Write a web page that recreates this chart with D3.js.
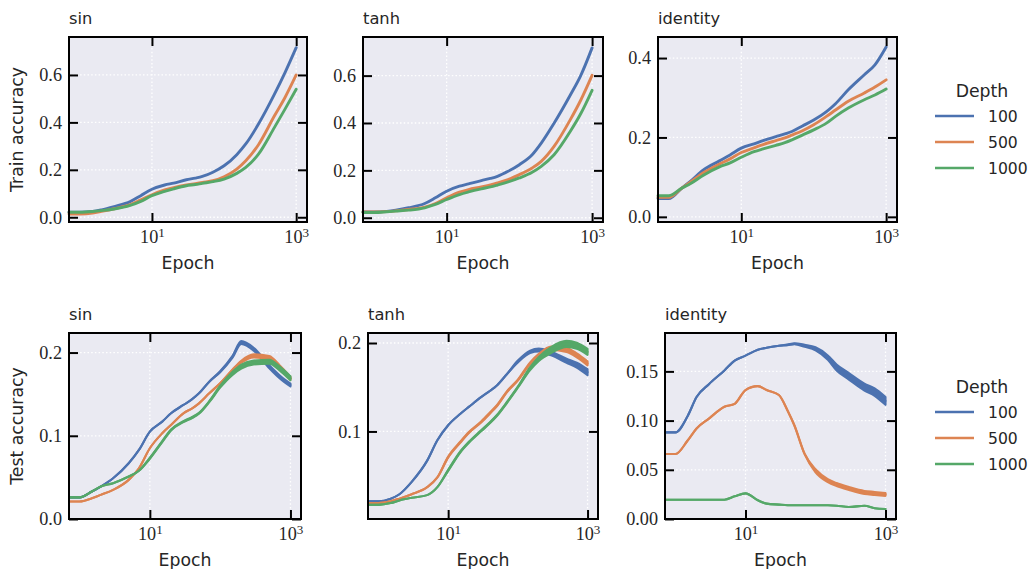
<!DOCTYPE html>
<html>
<head>
<meta charset="utf-8">
<script src="https://cdn.jsdelivr.net/npm/d3@7"></script>
<style>
  body { margin: 0; background: #fff; }
  svg { display: block; }
</style>
</head>
<body>
<div id="chart"></div>
<script>
var epochs = [1, 1.5, 2, 3, 5, 7, 10, 15, 20, 30, 40, 50, 70, 100, 150, 200, 300, 500, 700, 1000];
var depths = ["100", "500", "1000"];
var colors = ["#4c72b0", "#dd8452", "#55a868"];

// train accuracy
var sinTrain100  = [0.021,0.024,0.031,0.045,0.066,0.091,0.118,0.136,0.144,0.158,0.165,0.172,0.190,0.217,0.264,0.309,0.393,0.519,0.610,0.715];
var sinTrain500  = [0.014,0.018,0.025,0.036,0.053,0.073,0.095,0.115,0.125,0.136,0.142,0.147,0.154,0.171,0.203,0.238,0.306,0.428,0.505,0.600];
var sinTrain1000 = [0.021,0.024,0.028,0.035,0.050,0.067,0.091,0.109,0.120,0.133,0.138,0.143,0.150,0.161,0.185,0.210,0.266,0.379,0.456,0.540];

var tanhTrain100  = [0.024,0.027,0.032,0.042,0.060,0.084,0.112,0.133,0.143,0.157,0.166,0.175,0.196,0.224,0.266,0.315,0.399,0.517,0.601,0.717];
var tanhTrain500  = [0.024,0.026,0.029,0.035,0.045,0.060,0.084,0.108,0.119,0.130,0.139,0.147,0.161,0.182,0.210,0.238,0.301,0.413,0.497,0.601];
var tanhTrain1000 = [0.022,0.025,0.028,0.032,0.042,0.056,0.077,0.098,0.109,0.122,0.130,0.138,0.151,0.168,0.192,0.217,0.266,0.364,0.440,0.538];

var idTrain100  = [0.046,0.072,0.090,0.118,0.141,0.156,0.173,0.184,0.192,0.202,0.209,0.215,0.229,0.244,0.265,0.285,0.320,0.358,0.383,0.428];
var idTrain500  = [0.049,0.072,0.088,0.111,0.133,0.146,0.162,0.174,0.182,0.192,0.199,0.206,0.217,0.232,0.253,0.269,0.291,0.312,0.327,0.345];
var idTrain1000 = [0.053,0.072,0.084,0.105,0.126,0.136,0.150,0.164,0.171,0.180,0.187,0.194,0.206,0.219,0.236,0.253,0.274,0.295,0.307,0.322];

// test accuracy
var sinTest100  = [0.026,0.033,0.039,0.049,0.067,0.083,0.105,0.117,0.127,0.137,0.144,0.151,0.165,0.177,0.195,0.212,0.204,0.183,0.171,0.161];
var sinTest500  = [0.021,0.025,0.029,0.035,0.047,0.061,0.085,0.103,0.113,0.127,0.133,0.139,0.151,0.163,0.179,0.189,0.196,0.194,0.183,0.169];
var sinTest1000 = [0.026,0.033,0.039,0.043,0.051,0.058,0.073,0.093,0.107,0.117,0.122,0.127,0.141,0.159,0.175,0.183,0.188,0.189,0.181,0.169];

var tanhTest100  = [0.021,0.024,0.029,0.043,0.067,0.090,0.107,0.120,0.128,0.139,0.146,0.152,0.165,0.179,0.190,0.192,0.188,0.180,0.175,0.167];
var tanhTest500  = [0.019,0.021,0.024,0.029,0.037,0.048,0.071,0.088,0.099,0.111,0.121,0.129,0.145,0.158,0.177,0.186,0.194,0.192,0.186,0.177];
var tanhTest1000 = [0.017,0.019,0.022,0.025,0.028,0.037,0.056,0.077,0.088,0.101,0.110,0.118,0.133,0.150,0.171,0.182,0.192,0.199,0.197,0.190];

var idTest100  = [0.088,0.105,0.124,0.137,0.151,0.161,0.166,0.172,0.174,0.176,0.177,0.178,0.176,0.173,0.164,0.154,0.145,0.134,0.129,0.120];
var idTest500  = [0.066,0.080,0.092,0.102,0.114,0.117,0.131,0.135,0.131,0.126,0.110,0.095,0.066,0.049,0.039,0.035,0.031,0.027,0.026,0.025];
var idTest1000 = [0.0196,0.0196,0.0196,0.0196,0.0196,0.023,0.026,0.019,0.0156,0.0146,0.014,0.0139,0.0139,0.0139,0.0139,0.0135,0.0122,0.0135,0.011,0.0102];

// half width of the noisy band around each test curve
var sinTestNoise100  = [0,0,0,0,0,0,0,0,0,0,0,0,0,0.0006,0.0012,0.0018,0.0018,0.0018,0.0018,0.0018];
var sinTestNoise500  = [0,0,0,0,0,0,0,0,0,0,0,0,0,0,0.0006,0.0012,0.0018,0.0018,0.0018,0.0018];
var sinTestNoise1000 = [0,0,0,0,0,0,0.0006,0.0006,0.0006,0.0006,0.0006,0.0006,0.0006,0.0012,0.0018,0.0024,0.0024,0.0024,0.0024,0.0024];

var tanhTestNoise100  = [0,0,0,0,0,0,0,0,0,0,0,0,0,0.0011,0.0014,0.0017,0.002,0.0023,0.0028,0.0034];
var tanhTestNoise500  = [0,0,0,0,0,0,0.0006,0.0006,0.0006,0.0006,0.0006,0.0006,0.0006,0.0006,0.0011,0.0017,0.002,0.0023,0.0023,0.0023];
var tanhTestNoise1000 = [0,0,0,0,0,0,0.0006,0.0006,0.0006,0.0006,0.0006,0.0006,0.0006,0.0006,0.0017,0.0023,0.0034,0.0034,0.0034,0.0034];

var idTestNoise100  = [0,0,0,0,0,0,0,0,0,0,0.0003,0.0005,0.001,0.0015,0.0022,0.003,0.0033,0.0035,0.0038,0.004];
var idTestNoise500  = [0,0,0,0,0,0,0,0,0,0,0,0,0,0.0015,0.0015,0.0015,0.0015,0.0015,0.0015,0.0015];
var idTestNoise1000 = [0,0,0,0,0,0,0,0,0,0,0,0,0,0,0,0,0,0,0,0];

var xTicks = [10, 1000];

var panels = [
  {title: "sin", ylabel: "Train accuracy", left: 69, right: 307, top: 37, bottom: 222,
   ydom: [-0.02, 0.76], yticks: [0, 0.2, 0.4, 0.6], fmt: ".1f", lw: 2.9,
   series: [sinTrain100, sinTrain500, sinTrain1000]},
  {title: "tanh", left: 363, right: 603, top: 37, bottom: 222,
   ydom: [-0.018, 0.763], yticks: [0, 0.2, 0.4, 0.6], fmt: ".1f", lw: 2.9,
   series: [tanhTrain100, tanhTrain500, tanhTrain1000]},
  {title: "identity", left: 658, right: 897, top: 37, bottom: 222,
   ydom: [-0.013, 0.453], yticks: [0, 0.2, 0.4], fmt: ".1f", lw: 2.9,
   series: [idTrain100, idTrain500, idTrain1000], legend: true},
  {title: "sin", ylabel: "Test accuracy", left: 69, right: 301, top: 333, bottom: 519,
   ydom: [0, 0.2235], yticks: [0, 0.1, 0.2], fmt: ".1f", lw: 2.1,
   series: [sinTest100, sinTest500, sinTest1000],
   noise: [sinTestNoise100, sinTestNoise500, sinTestNoise1000]},
  {title: "tanh", left: 368, right: 598, top: 333, bottom: 519,
   ydom: [0.001, 0.2113], yticks: [0.1, 0.2], fmt: ".1f", lw: 2.1,
   series: [tanhTest100, tanhTest500, tanhTest1000],
   noise: [tanhTestNoise100, tanhTestNoise500, tanhTestNoise1000]},
  {title: "identity", left: 665, right: 896, top: 333, bottom: 519,
   ydom: [0, 0.189], yticks: [0, 0.05, 0.1, 0.15], fmt: ".2f", lw: 2.1,
   series: [idTest100, idTest500, idTest1000],
   noise: [idTestNoise100, idTestNoise500, idTestNoise1000], legend: true}
];

var sans = "'DejaVu Sans', sans-serif";
var serif = "'Liberation Serif', 'DejaVu Serif', serif";
var ink = "#262626";

var svg = d3.select("#chart").append("svg")
  .attr("width", 1029)
  .attr("height", 569);

function styleTicks(ax) {
  ax.select(".domain").remove();
  ax.selectAll(".tick line").attr("stroke", "#000").attr("stroke-width", 2);
  ax.selectAll(".tick text").attr("fill", ink);
  ax.attr("font-family", serif).attr("font-size", 18.2);
}

function drawPanel(p) {
  var x = d3.scaleLog()
    .domain([Math.pow(10, -0.15), Math.pow(10, 3.15)])
    .range([p.left, p.right]);
  var y = d3.scaleLinear()
    .domain(p.ydom)
    .range([p.bottom, p.top]);
  var g = svg.append("g");

  g.append("rect")
    .attr("x", p.left).attr("y", p.top)
    .attr("width", p.right - p.left).attr("height", p.bottom - p.top)
    .attr("fill", "#eaeaf2");

  // dotted white grid
  g.selectAll(".gx").data(xTicks).join("line")
    .attr("x1", d => x(d)).attr("x2", d => x(d))
    .attr("y1", p.top).attr("y2", p.bottom)
    .attr("stroke", "#fff").attr("stroke-width", 1.3).attr("stroke-dasharray", "1.5,2.2");
  g.selectAll(".gy").data(p.yticks).join("line")
    .attr("x1", p.left).attr("x2", p.right)
    .attr("y1", d => y(d)).attr("y2", d => y(d))
    .attr("stroke", "#fff").attr("stroke-width", 1.3).attr("stroke-dasharray", "1.5,2.2");

  var x0 = x.domain()[0];
  p.series.forEach(function(vals, i) {
    // first point repeated at the left edge (epoch 0 clipped by the log axis)
    var pts = [{e: x0, v: vals[0], n: 0}].concat(epochs.map(function(e, k) {
      return {e: e, v: vals[k], n: p.noise ? p.noise[i][k] : 0};
    }));
    if (p.noise) {
      var band = d3.area()
        .x(d => x(d.e))
        .y0(d => y(d.v - d.n))
        .y1(d => y(d.v + d.n))
        .curve(d3.curveMonotoneX);
      g.append("path").datum(pts)
        .attr("d", band)
        .attr("fill", colors[i])
        .attr("stroke", colors[i])
        .attr("stroke-width", p.lw)
        .attr("stroke-linejoin", "round");
    }
    var line = d3.line()
      .x(d => x(d.e))
      .y(d => y(d.v))
      .curve(d3.curveMonotoneX);
    g.append("path").datum(pts)
      .attr("d", line)
      .attr("fill", "none")
      .attr("stroke", colors[i])
      .attr("stroke-width", p.lw)
      .attr("stroke-linejoin", "round")
      .attr("stroke-linecap", "round");
  });

  // axes with inward ticks on all four sides
  var axL = g.append("g").attr("transform", "translate(" + p.left + ",0)")
    .call(d3.axisLeft(y).tickValues(p.yticks).tickSize(-9).tickPadding(7).tickFormat(d3.format(p.fmt)));
  styleTicks(axL);
  var axR = g.append("g").attr("transform", "translate(" + p.right + ",0)")
    .call(d3.axisRight(y).tickValues(p.yticks).tickSize(-9).tickFormat(""));
  styleTicks(axR);
  var axT = g.append("g").attr("transform", "translate(0," + p.top + ")")
    .call(d3.axisTop(x).tickValues(xTicks).tickSize(-9).tickFormat(""));
  styleTicks(axT);
  var axB = g.append("g").attr("transform", "translate(0," + p.bottom + ")")
    .call(d3.axisBottom(x).tickValues(xTicks).tickSize(-9).tickPadding(8));
  styleTicks(axB);
  axB.selectAll(".tick text").text(null).each(function(d) {
    var t = d3.select(this);
    t.append("tspan").text("10");
    t.append("tspan").attr("dy", "-0.42em").attr("font-size", "0.72em")
      .text(Math.round(Math.log10(d)));
  });

  g.append("rect")
    .attr("x", p.left).attr("y", p.top)
    .attr("width", p.right - p.left).attr("height", p.bottom - p.top)
    .attr("fill", "none").attr("stroke", "#000").attr("stroke-width", 2);

  g.append("text")
    .attr("x", p.left).attr("y", p.top - 13)
    .attr("font-family", sans).attr("font-size", 16.3).attr("fill", ink)
    .text(p.title);

  g.append("text")
    .attr("x", (p.left + p.right) / 2).attr("y", p.bottom + 47)
    .attr("text-anchor", "middle")
    .attr("font-family", sans).attr("font-size", 17.3).attr("fill", ink)
    .text("Epoch");

  if (p.ylabel) {
    g.append("text")
      .attr("transform", "translate(23," + ((p.top + p.bottom) / 2) + ") rotate(-90)")
      .attr("text-anchor", "middle")
      .attr("font-family", sans).attr("font-size", 17.3).attr("fill", ink)
      .text(p.ylabel);
  }

  if (p.legend) {
    var lx = 935, ly = p.top + 60;
    var lg = g.append("g");
    lg.append("text")
      .attr("x", 982).attr("y", ly)
      .attr("text-anchor", "middle")
      .attr("font-family", sans).attr("font-size", 17.3).attr("fill", ink)
      .text("Depth");
    depths.forEach(function(dp, i) {
      var yy = ly + 19 + i * 26;
      lg.append("line")
        .attr("x1", lx).attr("x2", lx + 39)
        .attr("y1", yy).attr("y2", yy)
        .attr("stroke", colors[i]).attr("stroke-width", 2.6);
      lg.append("text")
        .attr("x", 988).attr("y", yy + 6)
        .attr("font-family", sans).attr("font-size", 15.6).attr("fill", ink)
        .text(dp);
    });
  }
}

panels.forEach(drawPanel);
</script>
</body>
</html>
